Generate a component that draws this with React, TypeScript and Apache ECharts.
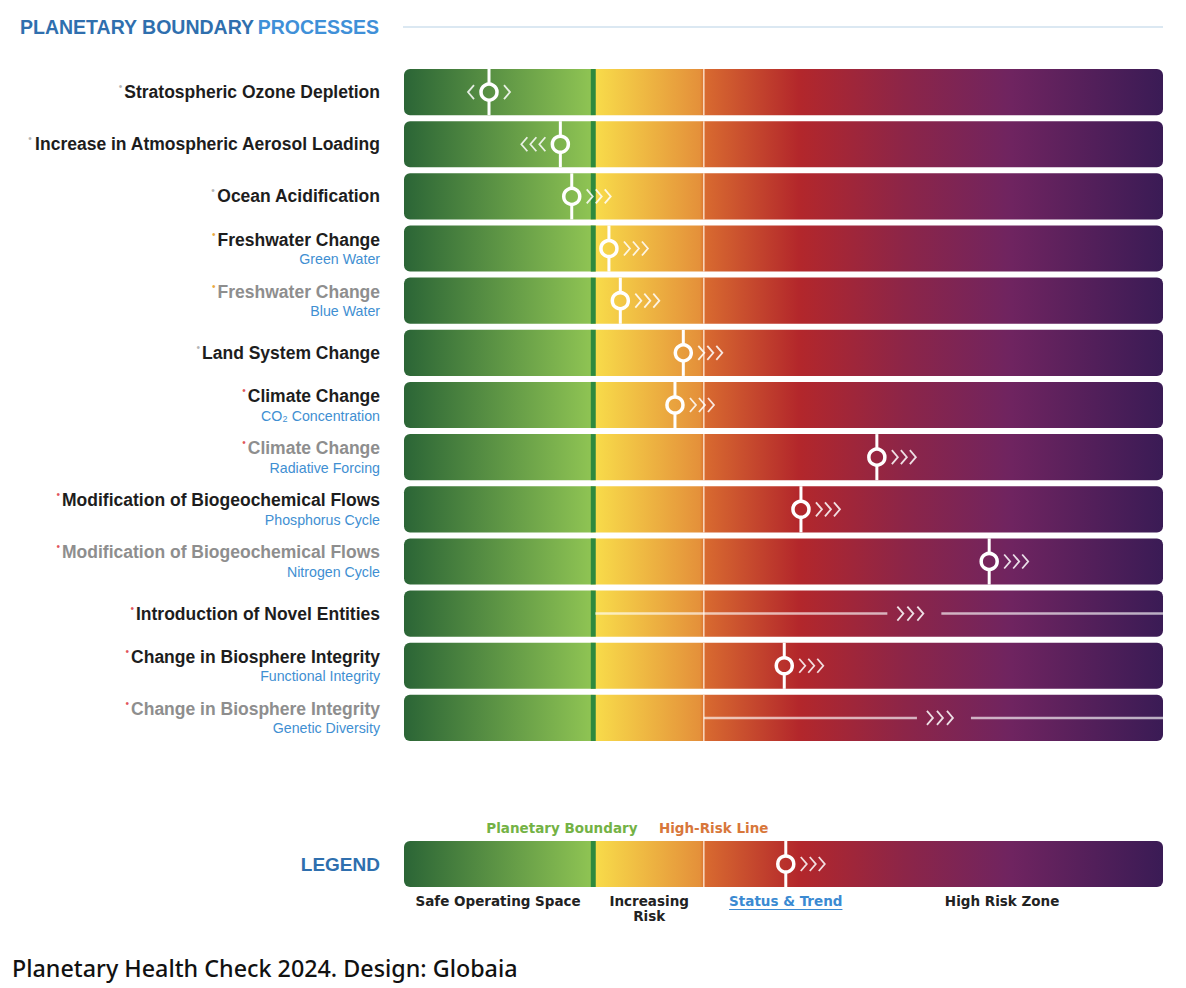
import React, { useEffect, useRef } from 'react';
import * as echarts from 'echarts';

// ---------- DATA ----------
const processNames = [
  'Stratospheric Ozone Depletion',
  'Increase in Atmospheric Aerosol Loading',
  'Ocean Acidification',
  'Freshwater Change',
  'Freshwater Change',
  'Land System Change',
  'Climate Change',
  'Climate Change',
  'Modification of Biogeochemical Flows',
  'Modification of Biogeochemical Flows',
  'Introduction of Novel Entities',
  'Change in Biosphere Integrity',
  'Change in Biosphere Integrity',
];
const subLabels = ['', '', '', 'Green Water', 'Blue Water', '', 'CO₂ Concentration', 'Radiative Forcing', 'Phosphorus Cycle', 'Nitrogen Cycle', '', 'Functional Integrity', 'Genetic Diversity'];
const labelTones = ['dark', 'dark', 'dark', 'dark', 'grey', 'dark', 'dark', 'grey', 'dark', 'grey', 'dark', 'dark', 'grey'];
const noteDots = ['dotGrey', 'dotGrey', 'dotGrey', 'dotAmber', 'dotAmber', 'dotGrey', 'dotRed', 'dotRed', 'dotRed', 'dotRed', 'dotRed', 'dotRed', 'dotRed'];
// position on a 0..100 scale (boundary = 25, high-risk line = 39.5)
const statusValues: (number | null)[] = [11.2, 20.6, 22.1, 27.0, 28.5, 36.8, 35.7, 62.3, 52.3, 77.1, null, 50.1, null];
const trends = ['both', 'left', 'right', 'right', 'right', 'right', 'right', 'right', 'right', 'right', 'right', 'right', 'right'];
const unquantifiedFrom: (number | null)[] = [null, null, null, null, null, null, null, null, null, null, 25.2, null, 39.5];
const unquantifiedTrendAt: (number | null)[] = [null, null, null, null, null, null, null, null, null, null, 65.0, null, 68.9];
const BOUNDARY = 25;
const HIGH_RISK = 39.5;
const legendStatus = 50.3;
const legendAbove = ['Planetary Boundary', 'High-Risk Line'];
const legendAboveAt = [20.8, 40.8];
const legendAboveColors = ['#74b245', '#d8773b'];
const legendBelow = ['Safe Operating Space', 'Increasing\nRisk', 'Status & Trend', 'High Risk Zone'];
const legendBelowAt = [12.4, 32.3, 50.3, 78.8];
const legendBelowColors = ['#222222', '#222222', '#3b8ad2', '#222222'];

// ---------- STYLE ----------
const FONT = "'Liberation Sans', Arial, sans-serif";
const WIDE = "'DejaVu Sans', sans-serif";
const STOPS: [number, string][] = [
  [0, '#2b6536'], [0.245, '#8ec353'], [0.251, '#f8dc4a'], [0.39, '#e4903a'],
  [0.397, '#d86a30'], [0.52, '#b3272b'], [0.66, '#8c2548'], [0.8, '#6f2460'], [1, '#3a1b55'],
];
const gradient = () =>
  new echarts.graphic.LinearGradient(0, 0, 1, 0, STOPS.map(([offset, color]) => ({ offset, color })));
const WHITE = '#ffffff';
const CHEV = 'rgba(255,255,255,0.85)';

function measure(text: string, font: string) {
  const ctx = document.createElement('canvas').getContext('2d');
  if (!ctx) return text.length * 8;
  ctx.font = font;
  return ctx.measureText(text).width;
}

function chevron(x: number, cy: number, dir: 'right' | 'left') {
  const w = 6, hh = 7;
  const pts = dir === 'right'
    ? [[x, cy - hh], [x + w, cy], [x, cy + hh]]
    : [[x + w, cy - hh], [x, cy], [x + w, cy + hh]];
  return { type: 'polyline', shape: { points: pts }, style: { stroke: CHEV, lineWidth: 1.8, fill: 'none' } };
}

function makeBarItem(gap: number) {
  return (params: any, api: any) => {
    const row = api.value(1);
    const s = api.coord([0, row]);
    const e = api.coord([100, row]);
    const h = api.size([0, 1])[1] - gap;
    const y = s[1] - h / 2;
    const bx = api.coord([BOUNDARY, row])[0];
    const hx = api.coord([HIGH_RISK, row])[0];
    return {
      type: 'group',
      children: [
        { type: 'rect', shape: { x: s[0], y, width: e[0] - s[0], height: h, r: 6 }, style: { fill: gradient() } },
        { type: 'rect', shape: { x: bx - 3, y, width: 5, height: h }, style: { fill: '#2e8a3e' } },
        { type: 'line', shape: { x1: hx, y1: y, x2: hx, y2: y + h }, style: { stroke: 'rgba(255,236,220,0.8)', lineWidth: 1.6 } },
      ],
    };
  };
}

function makeMarkerItem(gap: number, trendOf: (i: number) => string) {
  return (params: any, api: any) => {
    const row = api.value(1);
    const [cx, cy] = api.coord([api.value(0), row]);
    const h = api.size([0, 1])[1] - gap;
    const top = cy - h / 2, bot = cy + h / 2;
    const r = 8;
    const children: any[] = [
      { type: 'line', shape: { x1: cx, y1: top, x2: cx, y2: cy - r }, style: { stroke: WHITE, lineWidth: 3 } },
      { type: 'line', shape: { x1: cx, y1: cy + r, x2: cx, y2: bot }, style: { stroke: WHITE, lineWidth: 3 } },
      { type: 'circle', shape: { cx, cy, r }, style: { stroke: WHITE, lineWidth: 3.5, fill: 'none' } },
    ];
    const t = trendOf(params.dataIndex);
    if (t === 'right') {
      for (let k = 0; k < 3; k++) children.push(chevron(cx + 15 + k * 9, cy, 'right'));
    } else if (t === 'left') {
      for (let k = 0; k < 3; k++) children.push(chevron(cx - 21 - k * 9, cy, 'left'));
    } else {
      children.push(chevron(cx - 21, cy, 'left'));
      children.push(chevron(cx + 15, cy, 'right'));
    }
    return { type: 'group', children };
  };
}

const unquantItem = (params: any, api: any) => {
  const row = api.value(1);
  const [x0, cy] = api.coord([api.value(0), row]);
  const x1 = api.coord([100, row])[0];
  const cxv = api.coord([api.value(2), row])[0];
  const line = { stroke: 'rgba(255,255,255,0.65)', lineWidth: 2.5 };
  const children: any[] = [
    { type: 'line', shape: { x1: x0, y1: cy, x2: cxv - 10, y2: cy }, style: line },
    { type: 'line', shape: { x1: cxv + 44, y1: cy, x2: x1, y2: cy }, style: line },
  ];
  for (let k = 0; k < 3; k++) children.push(chevron(cxv + k * 10, cy, 'right'));
  return { type: 'group', children };
};

const rowKeys = processNames.map((n, i) => (subLabels[i] ? `${n} (${subLabels[i]})` : n));
const markerRows = statusValues.map((v, i) => (v == null ? -1 : i)).filter((i) => i >= 0);
const unquantRows = unquantifiedFrom.map((v, i) => (v == null ? -1 : i)).filter((i) => i >= 0);

export default function App() {
  const ref = useRef<HTMLDivElement>(null);
  useEffect(() => {
    if (!ref.current) return;
    const chart = echarts.init(ref.current, null, { renderer: 'svg' });
    const legendFontSize = 13.5;
    const statusFont = `bold ${legendFontSize}px 'DejaVu Sans', sans-serif`;
    const statusW = measure(legendBelow[2], statusFont);
    const dotStyle = (color: string) => ({
      fontFamily: FONT, fontSize: 10, color, verticalAlign: 'top', lineHeight: 21, padding: [0, 2, 6, 0],
    });

    const option: any = {
      animation: false,
      backgroundColor: '#ffffff',
      grid: [
        { left: 404, width: 759, top: 66, height: 678 },
        { left: 404, width: 759, top: 841, height: 46 },
      ],
      xAxis: [
        { gridIndex: 0, type: 'value', min: 0, max: 100, show: false },
        { gridIndex: 1, type: 'value', min: 0, max: 100, show: false },
      ],
      yAxis: [
        {
          gridIndex: 0, type: 'category', inverse: true, data: rowKeys,
          axisLine: { show: false }, axisTick: { show: false }, splitLine: { show: false },
          axisLabel: {
            margin: 24, align: 'right',
            formatter: (_v: string, i: number) => {
              const main = `{${noteDots[i]}|•}{${labelTones[i]}|${processNames[i]}}`;
              return subLabels[i] ? `${main}\n{sub|${subLabels[i]}}` : main;
            },
            rich: {
              dark: { fontFamily: FONT, fontSize: 17.5, fontWeight: 'bold', color: '#1d1d1d', lineHeight: 21 },
              grey: { fontFamily: FONT, fontSize: 17.5, fontWeight: 'bold', color: '#8e8e8e', lineHeight: 21 },
              sub: { fontFamily: FONT, fontSize: 14.2, color: '#3f8fd2', lineHeight: 18 },
              dotGrey: dotStyle('#b5b5b5'),
              dotAmber: dotStyle('#e9a93f'),
              dotRed: dotStyle('#e2565b'),
            },
          },
        },
        {
          gridIndex: 1, type: 'category', data: ['LEGEND'],
          axisLine: { show: false }, axisTick: { show: false }, splitLine: { show: false },
          axisLabel: { margin: 24, fontFamily: FONT, fontSize: 19, fontWeight: 900, color: '#2f6fae' },
        },
      ],
      graphic: [
        {
          type: 'text', x: 20, y: 27,
          style: {
            text: '{a|PLANETARY BOUNDARY} {b|PROCESSES}', verticalAlign: 'middle',
            rich: {
              a: { fontFamily: FONT, fontSize: 19.5, fontWeight: 900, fill: '#2f6fae' },
              b: { fontFamily: FONT, fontSize: 19.5, fontWeight: 900, fill: '#3f90d8' },
            },
          },
        },
        { type: 'line', shape: { x1: 403, y1: 27, x2: 1163, y2: 27 }, style: { stroke: '#cfe0ee', lineWidth: 1.5 } },
        {
          type: 'text', x: 12, y: 968,
          style: { text: 'Planetary Health Check 2024. Design: Globaia', verticalAlign: 'middle', fontFamily: "'Noto Sans', sans-serif", fontSize: 23.3, fontWeight: 500, fill: '#111111' },
        },
      ],
      series: [
        {
          type: 'custom', name: 'bars', xAxisIndex: 0, yAxisIndex: 0, clip: false,
          data: processNames.map((_, i) => [100, i]), renderItem: makeBarItem(6),
        },
        {
          type: 'custom', name: 'status', xAxisIndex: 0, yAxisIndex: 0, clip: false,
          data: markerRows.map((i) => [statusValues[i], i]),
          renderItem: makeMarkerItem(6, (d) => trends[markerRows[d]]),
        },
        {
          type: 'custom', name: 'unquantified', xAxisIndex: 0, yAxisIndex: 0, clip: false,
          data: unquantRows.map((i) => [unquantifiedFrom[i], i, unquantifiedTrendAt[i]]),
          renderItem: unquantItem,
        },
        {
          type: 'custom', name: 'legendBar', xAxisIndex: 1, yAxisIndex: 1, clip: false,
          data: [[100, 0]], renderItem: makeBarItem(0),
        },
        {
          type: 'custom', name: 'legendStatus', xAxisIndex: 1, yAxisIndex: 1, clip: false,
          data: [[legendStatus, 0]], renderItem: makeMarkerItem(0, () => 'right'),
        },
        {
          type: 'custom', name: 'legendAbove', xAxisIndex: 1, yAxisIndex: 1, clip: false,
          data: legendAboveAt.map((v) => [v, 0]),
          renderItem: (params: any, api: any) => {
            const [x, cy] = api.coord([api.value(0), 0]);
            const top = cy - api.size([0, 1])[1] / 2;
            return {
              type: 'text', x, y: top - 13,
              style: {
                text: legendAbove[params.dataIndex], fill: legendAboveColors[params.dataIndex],
                fontFamily: WIDE, fontSize: legendFontSize, fontWeight: 'bold', align: 'center', verticalAlign: 'middle',
              },
            };
          },
        },
        {
          type: 'custom', name: 'legendBelow', xAxisIndex: 1, yAxisIndex: 1, clip: false,
          data: legendBelowAt.map((v) => [v, 0]),
          renderItem: (params: any, api: any) => {
            const [x, cy] = api.coord([api.value(0), 0]);
            const bot = cy + api.size([0, 1])[1] / 2;
            const i = params.dataIndex;
            const children: any[] = [
              {
                type: 'text', x, y: bot + 6,
                style: {
                  text: legendBelow[i], fill: legendBelowColors[i], fontFamily: WIDE, fontSize: legendFontSize,
                  fontWeight: 'bold', align: 'center', verticalAlign: 'top', lineHeight: 15.5,
                },
              },
            ];
            if (i === 2) {
              children.push({
                type: 'line', shape: { x1: x - statusW / 2, y1: bot + 22.5, x2: x + statusW / 2, y2: bot + 22.5 },
                style: { stroke: '#3b8ad2', lineWidth: 1 },
              });
            }
            return { type: 'group', children };
          },
        },
      ],
    };
    chart.setOption(option);
    return () => chart.dispose();
  }, []);
  return (
    <div
      ref={ref}
      style={{ position: 'fixed', left: 0, top: 0, width: 1186, height: 988, background: '#ffffff' }}
    />
  );
}
